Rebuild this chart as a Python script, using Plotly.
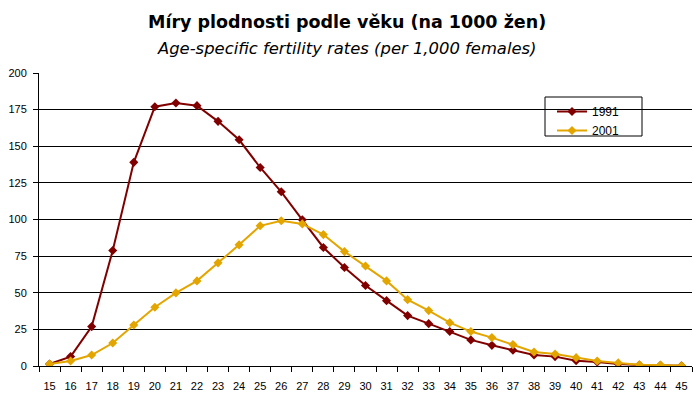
import plotly.graph_objects as go

ages = list(range(15, 46))
rates_1991 = [1.4, 6.4, 26.9, 78.8, 139.0, 177.0, 179.5, 177.7, 167.0, 154.4,
              135.5, 118.9, 99.8, 80.9, 67.2, 54.9, 44.6, 34.4, 28.9, 23.5,
              17.8, 14.1, 10.7, 7.5, 6.4, 3.6, 2.7, 1.4, 0.7, 0.5, 0.2]
rates_2001 = [1.4, 3.4, 7.5, 15.7, 28.0, 40.1, 49.9, 58.1, 70.4, 82.7,
              95.7, 99.1, 97.0, 89.7, 78.1, 68.3, 58.1, 45.3, 37.8, 29.6,
              23.5, 19.4, 14.6, 9.6, 8.2, 5.7, 3.4, 2.1, 0.9, 0.7, 0.2]
y_ticks = [0, 25, 50, 75, 100, 125, 150, 175, 200]

FONT = "Liberation Sans, Arial, sans-serif"
TFONT = "DejaVu Sans, Liberation Sans, sans-serif"
c1991 = "#800000"
c2001 = "#E3A600"

L, R, T, B = 39, 692, 73, 366
W, H = R - L, B - T


def px(x):
    return (x - L) / W


def py(y):
    return (B - y) / H


fig = go.Figure()
fig.add_trace(go.Scatter(x=ages, y=rates_1991, name="1991", mode="lines+markers",
                         line=dict(color=c1991, width=2),
                         marker=dict(symbol="diamond", size=7, color=c1991)))
fig.add_trace(go.Scatter(x=ages, y=rates_2001, name="2001", mode="lines+markers",
                         line=dict(color=c2001, width=2),
                         marker=dict(symbol="diamond", size=7, color=c2001)))

fig.update_layout(
    width=694, height=398,
    margin=dict(l=L, r=694 - R, t=T, b=398 - B),
    paper_bgcolor="white", plot_bgcolor="white",
    font=dict(family=FONT, size=11, color="black"),
    showlegend=True,
    legend=dict(x=px(552), y=py(97), xanchor="left", yanchor="top",
                bgcolor="rgba(0,0,0,0)", borderwidth=0,
                font=dict(size=12, family=FONT), itemwidth=30,
                tracegroupgap=0),
    shapes=[dict(type="rect", xref="paper", yref="paper",
                 x0=px(545), x1=px(642), y0=py(136), y1=py(97),
                 line=dict(color="black", width=1), fillcolor="white",
                 layer="between")],
    annotations=[
        dict(text="<b>Míry plodnosti podle věku (na 1000 žen)</b>", xref="paper", yref="paper",
             x=px(347), y=py(22), xanchor="center", yanchor="middle",
             showarrow=False, font=dict(size=17.5, family=TFONT)),
        dict(text="<i>Age-specific fertility rates (per 1,000 females)</i>", xref="paper", yref="paper",
             x=px(346), y=py(48), xanchor="center", yanchor="middle",
             showarrow=False, font=dict(size=16.4, family=TFONT)),
    ],
)

fig.update_xaxes(range=[14.5, 45.5], tickmode="array", tickvals=ages,
                 ticktext=[str(a) for a in ages], ticks="", showgrid=False,
                 showline=True, linecolor="black", linewidth=1,
                 tickfont=dict(size=11), zeroline=False, automargin=False,
                 ticklabelstandoff=10,
                 minor=dict(tickmode="linear", tick0=14.5, dtick=1, ticks="outside",
                            ticklen=5, tickcolor="black", showgrid=False))
fig.update_yaxes(range=[0, 200], tickmode="array", tickvals=y_ticks,
                 ticks="outside", ticklen=5, tickcolor="black",
                 showgrid=True, gridcolor="black", gridwidth=1,
                 showline=True, linecolor="black", linewidth=1,
                 zeroline=False, tickfont=dict(size=11), automargin=False,
                 ticklabelstandoff=4)

fig.write_html("out.html", config={"displayModeBar": False},
               post_script="document.body.style.margin='0';")
